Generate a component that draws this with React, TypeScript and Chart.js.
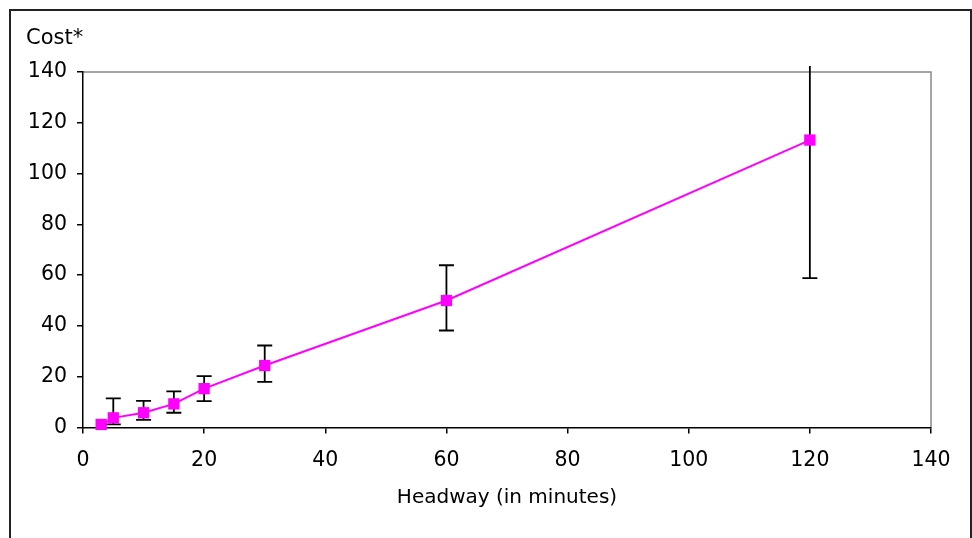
import React, { useEffect, useRef } from 'react';
import { Chart, registerables } from 'chart.js';

Chart.register(...registerables);

// ---- Data ----
const headway = [3, 5, 10, 15, 20, 30, 60, 120];
const cost = [1.2, 3.8, 5.8, 9.3, 15.3, 24.4, 50.0, 113.2];
const costLow = [1.2, 1.2, 3.0, 5.8, 10.4, 18.0, 38.2, 58.8];
const costHigh = [1.2, 11.5, 10.5, 14.2, 20.2, 32.3, 63.9, 167.6];
const xAxisTitle = 'Headway (in minutes)';
const yAxisTitle = 'Cost*';
const axisMin = 0;
const axisMax = 140;
const axisStep = 20;

const FONT = 'DejaVu Sans, Verdana, sans-serif';
const MAGENTA = '#ff00ff';

const plotBorderPlugin = {
  id: 'plotBorder',
  beforeDraw(chart: any) {
    const { ctx, chartArea } = chart;
    ctx.save();
    ctx.strokeStyle = '#888888';
    ctx.lineWidth = 1.5;
    ctx.beginPath();
    ctx.moveTo(chartArea.left, chartArea.top);
    ctx.lineTo(chartArea.right, chartArea.top);
    ctx.lineTo(chartArea.right, chartArea.bottom);
    ctx.stroke();
    ctx.restore();
  },
};

const errorBarPlugin = {
  id: 'errorBars',
  beforeDatasetsDraw(chart: any) {
    const { ctx, chartArea, scales } = chart;
    const xs = scales.x;
    const ys = scales.y;
    const cap = 7.5;
    const limitTop = chartArea.top - 6;
    ctx.save();
    ctx.strokeStyle = '#000000';
    ctx.lineWidth = 1.8;
    headway.forEach((h, i) => {
      if (costHigh[i] === costLow[i]) return;
      const px = xs.getPixelForValue(h);
      const yl = ys.getPixelForValue(costLow[i]);
      let yh = ys.getPixelForValue(costHigh[i]);
      let drawTopCap = true;
      if (yh < limitTop) {
        yh = limitTop;
        drawTopCap = false;
      }
      ctx.beginPath();
      ctx.moveTo(px, yl);
      ctx.lineTo(px, yh);
      ctx.moveTo(px - cap, yl);
      ctx.lineTo(px + cap, yl);
      if (drawTopCap) {
        ctx.moveTo(px - cap, yh);
        ctx.lineTo(px + cap, yh);
      }
      ctx.stroke();
    });
    ctx.restore();
  },
};

const yTitlePlugin = {
  id: 'yTitle',
  afterDraw(chart: any) {
    const { ctx, chartArea } = chart;
    ctx.save();
    ctx.font = `21px ${FONT}`;
    ctx.fillStyle = '#000000';
    ctx.textAlign = 'left';
    ctx.textBaseline = 'alphabetic';
    ctx.fillText(yAxisTitle, chartArea.left - 57, chartArea.top - 28);
    ctx.restore();
  },
};

export default function App() {
  const canvasRef = useRef<HTMLCanvasElement | null>(null);

  useEffect(() => {
    if (!canvasRef.current) return;
    const chart = new Chart(canvasRef.current, {
      type: 'line',
      data: {
        datasets: [
          {
            label: 'Cost',
            data: headway.map((h, i) => ({ x: h, y: cost[i] })),
            borderColor: MAGENTA,
            backgroundColor: MAGENTA,
            borderWidth: 2,
            pointStyle: 'rect',
            pointRadius: 8,
            pointBorderWidth: 0,
            pointBackgroundColor: MAGENTA,
            tension: 0,
            clip: false as any,
          },
        ],
      },
      options: {
        responsive: false,
        animation: false,
        layout: { padding: { left: 10, top: 72, right: 41, bottom: 0 } },
        plugins: {
          legend: { display: false },
          tooltip: { enabled: false },
        },
        scales: {
          x: {
            type: 'linear',
            min: axisMin,
            max: axisMax,
            afterFit(scale: any) {
              scale.height = 110.5;
            },
            ticks: {
              stepSize: axisStep,
              color: '#000000',
              padding: 15,
              font: { family: FONT, size: 20.5 },
            },
            grid: {
              drawOnChartArea: false,
              drawTicks: true,
              tickLength: 6,
              color: '#000000',
              lineWidth: 1.5,
            },
            border: { display: true, color: '#000000', width: 1.5 },
            title: {
              display: true,
              text: xAxisTitle,
              color: '#000000',
              font: { family: FONT, size: 20 },
              padding: { top: 0, bottom: 28 },
            },
          },
          y: {
            type: 'linear',
            min: axisMin,
            max: axisMax,
            afterFit(scale: any) {
              scale.width = 73;
            },
            ticks: {
              stepSize: axisStep,
              color: '#000000',
              padding: 10,
              font: { family: FONT, size: 20.5 },
            },
            grid: {
              drawOnChartArea: false,
              drawTicks: true,
              tickLength: 6,
              color: '#000000',
              lineWidth: 1.5,
            },
            border: { display: true, color: '#000000', width: 1.5 },
          },
        },
      },
      plugins: [plotBorderPlugin, errorBarPlugin, yTitlePlugin],
    });
    return () => chart.destroy();
  }, []);

  return (
    <div
      style={{
        position: 'fixed',
        left: 0,
        top: 0,
        width: 972,
        height: 538,
        overflow: 'hidden',
        background: '#ffffff',
      }}
    >
      <div
        style={{
          position: 'absolute',
          left: 9,
          top: 9,
          width: 963,
          height: 600,
          border: '2px solid #222222',
          boxSizing: 'border-box',
        }}
      />
      <canvas
        ref={canvasRef}
        width={972}
        height={538}
        style={{ position: 'absolute', left: 0, top: 0, width: 972, height: 538 }}
      />
    </div>
  );
}
